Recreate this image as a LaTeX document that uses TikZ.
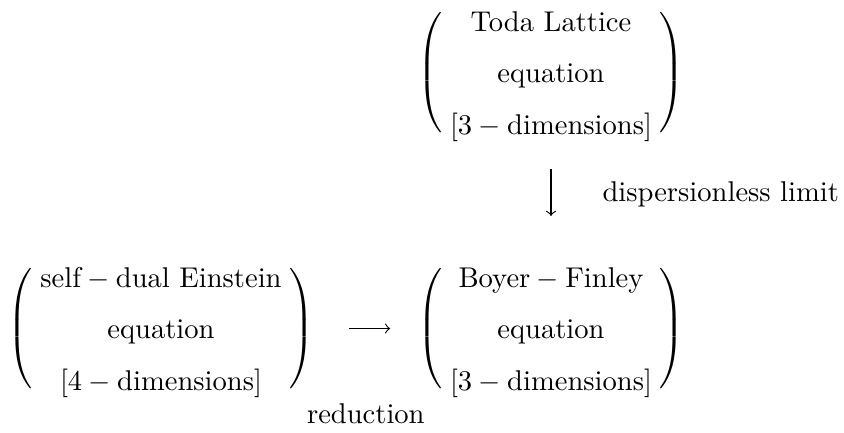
\documentclass[tikz,border=0pt]{standalone}
\usepackage{amsmath}
\usetikzlibrary{positioning}
\newcommand{\eqstack}[3]{$\delimiterfactor=770\delimitershortfall=12.5pt
  \left(\renewcommand{\arraystretch}{1.5}\begin{array}{@{\hspace{2.8pt}}c@{\hspace{2.8pt}}}#1\\{}#2\\{}#3\end{array}\right)$}

\begin{document}
\begin{tikzpicture}[x=0.35pt,y=-0.35pt,
    every node/.style={font=\normalsize},
    eqn/.style={inner sep=0pt},
    limit/.style={->,shorten <=6.4pt,shorten >=12.2pt}]
  \useasboundingbox (0,0) rectangle (844,432);
  \node[eqn] (toda) at (551,72.5) {\eqstack{\text{Toda Lattice}}{\text{equation}}{[3-\text{dimensions}]}};
  \node[eqn,on grid,below=89.6pt of toda] (boyer) {\eqstack{\text{Boyer}-\text{Finley}}{\text{equation}}{[3-\text{dimensions}]}};
  \node[eqn,on grid,left=136.5pt of boyer] (einstein) {\eqstack{\text{self}-\text{dual Einstein}}{\text{equation}}{[4-\text{dimensions}]}};
  \draw[limit] (toda) -- node[right=14.5pt,yshift=2pt]{dispersionless limit} (boyer);
  \draw[->,shorten <=11.8pt,shorten >=9.2pt] (einstein) -- node[below=22.6pt]{reduction} (boyer);
\end{tikzpicture}
\end{document}
